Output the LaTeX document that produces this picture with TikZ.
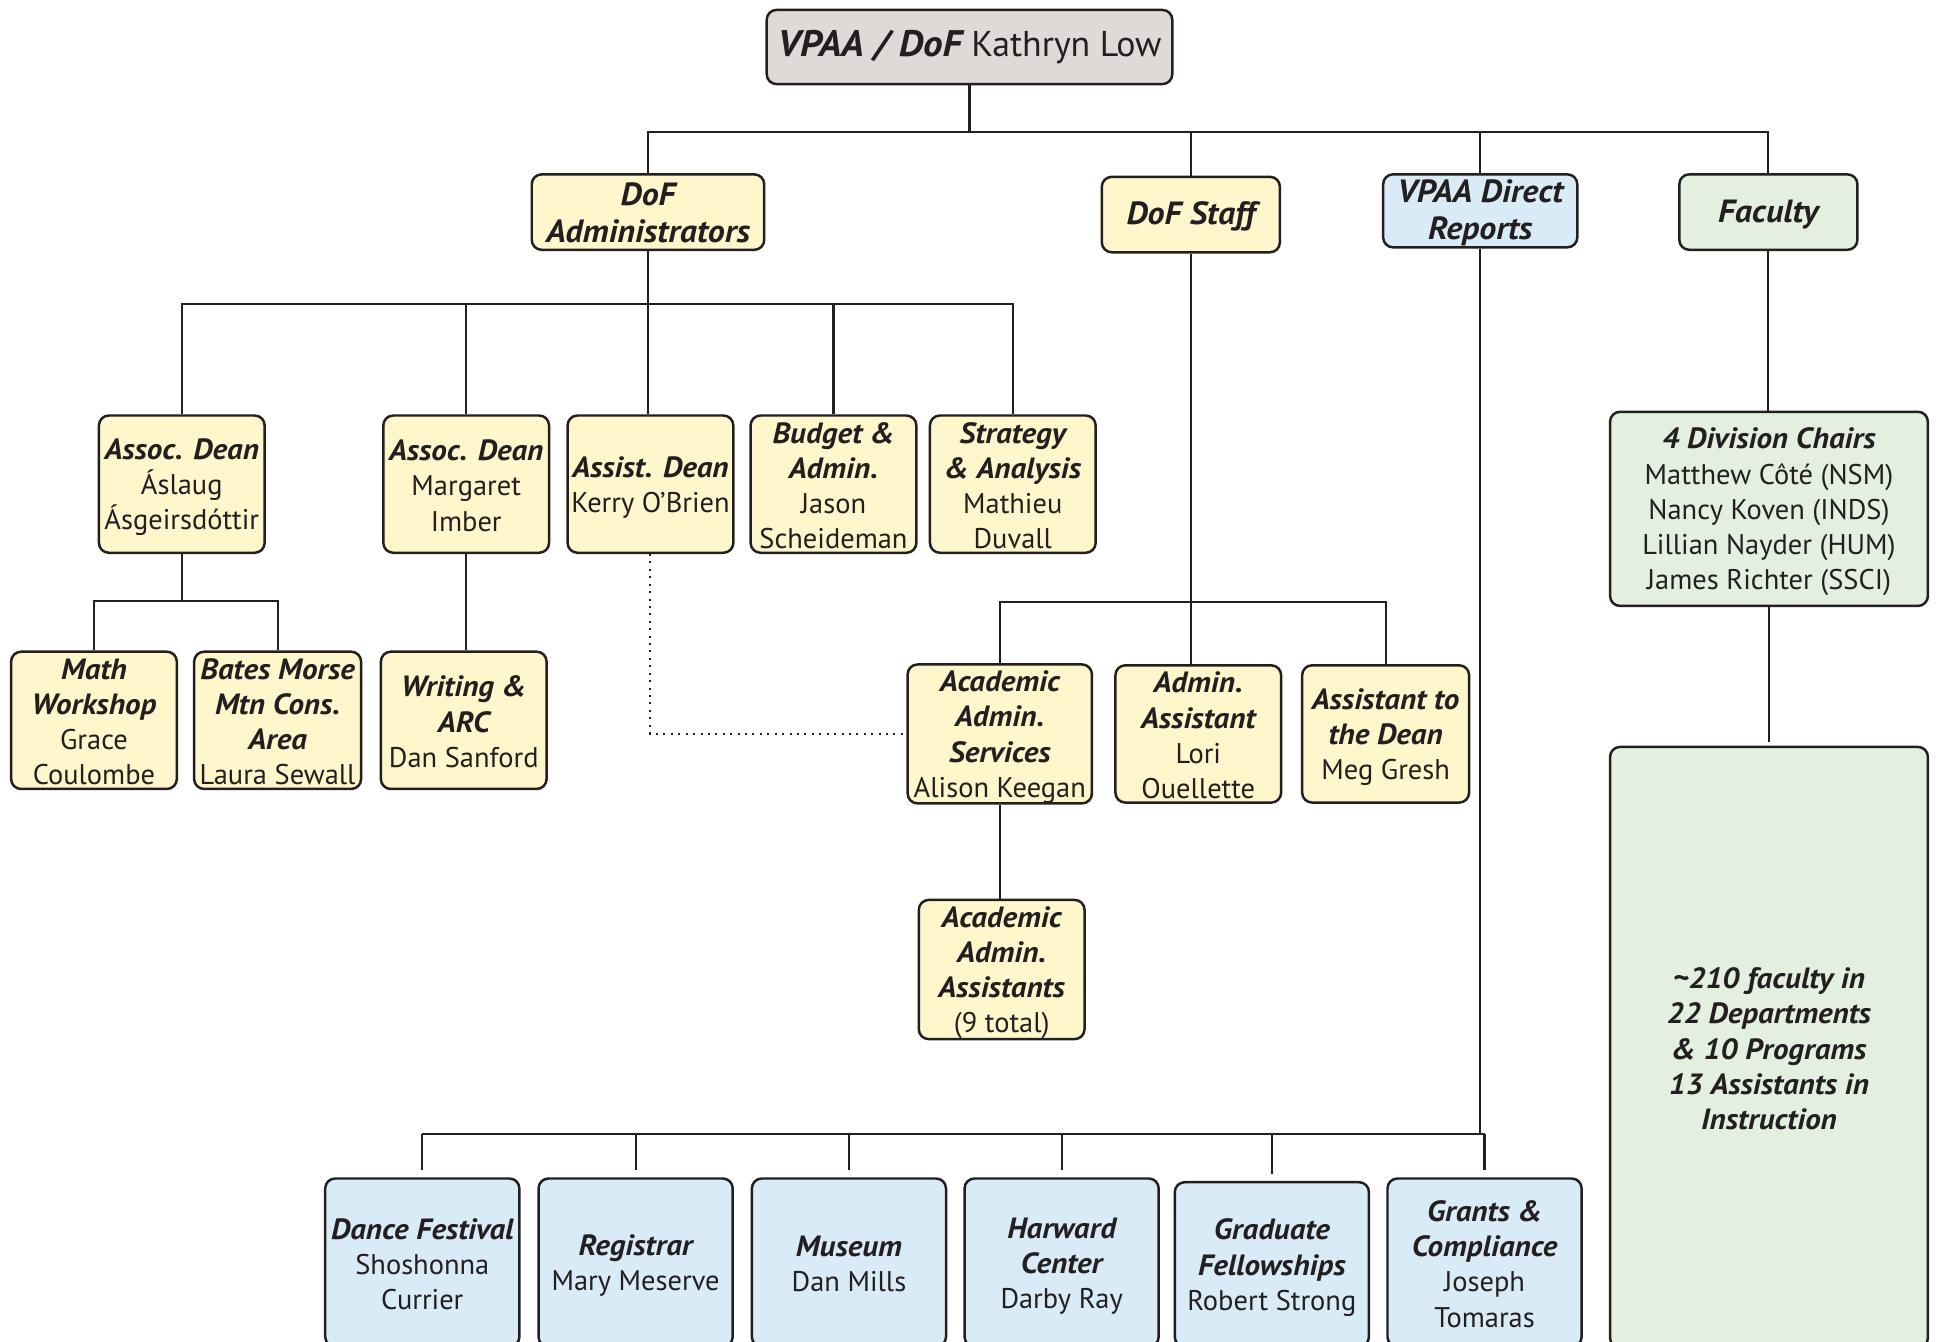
\documentclass[tikz,border=0pt]{standalone}
\usepackage{fontspec}
\setmainfont{PT Sans}
\newfontfamily\tbfam{PT Sans}[FakeStretch=1.06, Scale=1.03]
\definecolor{ink}{HTML}{231F20}
\definecolor{yel}{HTML}{FFF6CB}
\definecolor{blu}{HTML}{D8EBF7}
\definecolor{grn}{HTML}{E3EFDF}
\definecolor{gry}{HTML}{DEDAD8}
\newcommand\tb{\tbfam\bfseries\itshape}
\newcommand\st{\rule{0pt}{22pt}}
\begin{document}
\begin{tikzpicture}[x=1pt,y=-1pt]
\tikzset{
 box/.style={draw=ink, line width=2pt, rounded corners=8pt, align=center, inner sep=0pt, text=ink,
   font=\fontsize{23}{28.5}\selectfont,
   execute at end node={\rule[-3pt]{0pt}{3pt}}},
 yb/.style={box, fill=yel, minimum width=134pt, minimum height=111pt},
 bb/.style={box, fill=blu, minimum width=157pt, minimum height=136pt},
 lone/.style={font=\fontsize{25.2}{30}\selectfont, minimum height=61pt},
 link/.style={draw=ink, line width=1.8pt},
 dotline/.style={draw=ink, line width=1.6pt, dash pattern=on 1.6pt off 4.4pt},
}
\useasboundingbox (0,0) rectangle (1568,1085);

% top
\node[box, fill=gry, minimum width=328pt, minimum height=60pt, font=\fontsize{29}{34}\selectfont] (top) at (784,38) {\st{\tb VPAA / DoF} Kathryn Low};

% level 1
\node[yb, lone, minimum width=188pt] (dofadm) at (524,171.5) {\st{\tb DoF}\\{\tb Administrators}};
\node[yb, lone, minimum width=144pt] (dofstaff) at (963,173.5) {\st{\tb DoF Staff}};
\node[box, lone, fill=blu, minimum width=157pt, minimum height=59pt] (vpaa) at (1197,170.5) {\st{\tb VPAA Direct}\\{\tb Reports}};
\node[box, lone, fill=grn, minimum width=144pt] (fac) at (1430,171.5) {\st{\tb Faculty}};

% level 2
\node[yb] (ad1) at (147,391.5) {\st{\tb Assoc. Dean}\\Áslaug\\Ásgeirsdóttir};
\node[yb] (ad2) at (377,391.5) {\st{\tb Assoc. Dean}\\Margaret\\Imber};
\node[yb] (asd) at (526,391.5) {\st{\tb Assist. Dean}\\Kerry O’Brien};
\node[yb] (bud) at (674,391.5) {\st{\tb Budget \&}\\{\tb Admin.}\\Jason\\Scheideman};
\node[yb] (str) at (819,391.5) {\st{\tb Strategy}\\{\tb \& Analysis}\\Mathieu\\Duvall};

% level 3
\node[yb] (math) at (76,582.5) {\st{\tb Math}\\{\tb Workshop}\\Grace\\Coulombe};
\node[yb, minimum width=135pt] (bates) at (224.5,582.5) {\st{\tb Bates Morse}\\{\tb Mtn Cons.}\\{\tb Area}\\Laura Sewall};
\node[yb] (writ) at (375,582.5) {\st{\tb Writing \&}\\{\tb ARC}\\Dan Sanford};

% DoF staff children
\node[yb, minimum width=149pt] (aas) at (808.5,593.5) {\st{\tb Academic}\\{\tb Admin.}\\{\tb Services}\\Alison Keegan};
\node[yb] (adas) at (969,593.5) {\st{\tb Admin.}\\{\tb Assistant}\\Lori\\Ouellette};
\node[yb, minimum width=135pt] (atd) at (1120.5,593.5) {\st{\tb Assistant to}\\{\tb the Dean}\\Meg Gresh};
\node[yb, minimum height=110pt] (aaas) at (810,784) {\st{\tb Academic}\\{\tb Admin.}\\{\tb Assistants}\\(9 total)};

% faculty side
\node[box, fill=grn, minimum width=257pt, minimum height=157pt] (chairs) at (1430.5,411.5) {\st{\tb 4 Division Chairs}\\Matthew Côté (NSM)\\Nancy Koven (INDS)\\Lillian Nayder (HUM)\\James Richter (SSCI)};
\node[box, fill=grn, minimum width=257pt, minimum height=486pt, font=\fontsize{23}{28.5}\selectfont] (facbig) at (1430.5,847) {\st{\tb \textasciitilde210 faculty in}\\{\tb 22 Departments}\\{\tb \& 10 Programs}\\{\tb 13 Assistants in}\\{\tb Instruction}};

% bottom row
\node[bb] (dance) at (341.5,1021) {\st{\tb Dance Festival}\\Shoshonna\\Currier};
\node[bb] (reg) at (514,1021) {\st{\tb Registrar}\\Mary Meserve};
\node[bb] (mus) at (686.5,1021) {\st{\tb Museum}\\Dan Mills};
\node[bb] (har) at (858.5,1021) {\st{\tb Harward}\\{\tb Center}\\Darby Ray};
\node[bb, minimum height=133pt] (grad) at (1028.5,1022.5) {\st{\tb Graduate}\\{\tb Fellowships}\\Robert Strong};
\node[bb] (grants) at (1200.5,1021) {\st{\tb Grants \&}\\{\tb Compliance}\\Joseph\\Tomaras};

% connectors
\coordinate (t1) at (784,107);
\draw[link] (top.south) -- (top.south |- t1);
\draw[link] (dofadm.north) -- (dofadm.north |- t1) -- (fac.north |- t1) -- (fac.north);
\draw[link] (dofstaff.north |- t1) -- (dofstaff.north);
\draw[link] (vpaa.north |- t1) -- (vpaa.north);

\coordinate (b1) at (0,246);
\draw[link] (dofadm.south) -- (dofadm.south |- asd.north);
\draw[link] (ad1.north) -- (ad1.north |- b1) -- (str.north |- b1) -- (str.north);
\draw[link] (ad2.north |- b1) -- (ad2.north);
\draw[link] (bud.north |- b1) -- (bud.north);

\coordinate (b2) at (0,486);
\draw[link] (ad1.south) -- (ad1.south |- b2);
\draw[link] (math.north) -- (math.north |- b2) -- (bates.north |- b2) -- (bates.north);
\draw[link] (ad2.south) -- (ad2.south |- writ.north);

\draw[dotline] (asd.south) |- (aas.west);

\coordinate (b4) at (0,487);
\draw[link] (dofstaff.south) -- (dofstaff.south |- adas.north);
\draw[link] (aas.north) -- (aas.north |- b4) -- (atd.north |- b4) -- (atd.north);
\draw[link] (aas.south) -- (aas.south |- aaas.north);

\draw[link] (fac.south) -- (fac.south |- chairs.north);
\draw[link, shorten >=3pt] (chairs.south) -- (chairs.south |- facbig.north);

\coordinate (b3) at (0,917);
\draw[link] (vpaa.south) -- (vpaa.south |- b3);
\draw[link] (dance.north |- b3) -- (grants.north |- b3);
\foreach \n in {dance,reg,mus,har,grad,grants}
  \draw[link, shorten >=6pt] (\n.north |- b3) -- (\n.north);
\end{tikzpicture}
\end{document}
